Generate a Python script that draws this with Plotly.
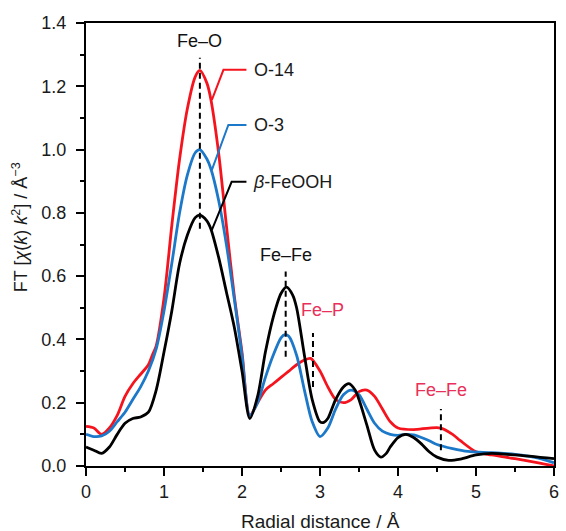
import plotly.graph_objects as go

# ---- data ----
x_o14 = [0, 0.1, 0.2, 0.3, 0.4, 0.5, 0.6, 0.7, 0.8, 0.85, 0.9, 1.0, 1.1, 1.2, 1.3, 1.4, 1.46, 1.55, 1.6, 1.7, 1.8, 1.9, 2.0, 2.1,
         2.2, 2.3, 2.4, 2.5, 2.6, 2.7, 2.8, 2.88, 3.0, 3.1, 3.2, 3.3, 3.4, 3.5, 3.6, 3.7, 3.8, 3.9, 4.0, 4.2, 4.4, 4.55,
         4.7, 4.8, 5.0, 5.2, 5.5, 5.8, 6.0]
y_o14 = [0.125, 0.12, 0.10, 0.12, 0.16, 0.22, 0.26, 0.29, 0.32, 0.35, 0.38, 0.53, 0.76, 0.97, 1.13, 1.23, 1.25, 1.21, 1.16, 0.99, 0.76, 0.54, 0.36, 0.16,
         0.20, 0.24, 0.26, 0.28, 0.30, 0.32, 0.335, 0.34, 0.30, 0.25, 0.21, 0.20, 0.21, 0.235, 0.24, 0.22, 0.18, 0.14, 0.12, 0.115, 0.12, 0.12,
         0.10, 0.08, 0.045, 0.035, 0.023, 0.01, 0.0]

x_o3 = [0, 0.1, 0.2, 0.3, 0.4, 0.5, 0.6, 0.7, 0.8, 0.9, 1.0, 1.1, 1.2, 1.3, 1.4, 1.46, 1.55, 1.6, 1.7, 1.8, 1.9, 2.0, 2.1,
        2.2, 2.3, 2.4, 2.5, 2.55, 2.6, 2.7, 2.8, 2.9, 3.0, 3.1, 3.2, 3.3, 3.4, 3.5, 3.6, 3.7, 3.8, 3.9, 4.0, 4.1, 4.2,
        4.3, 4.4, 4.5, 4.7, 4.9, 5.2, 5.5, 5.8, 6.0]
y_o3 = [0.10, 0.093, 0.095, 0.11, 0.14, 0.17, 0.21, 0.25, 0.30, 0.37, 0.49, 0.64, 0.80, 0.92, 0.99, 1.0, 0.97, 0.94, 0.84, 0.70, 0.53, 0.35, 0.16,
        0.20, 0.28, 0.35, 0.405, 0.415, 0.41, 0.35, 0.24, 0.14, 0.093, 0.12, 0.18, 0.225, 0.24, 0.225, 0.18, 0.135, 0.11, 0.10, 0.097, 0.10, 0.098,
        0.09, 0.08, 0.068, 0.055, 0.046, 0.042, 0.037, 0.025, 0.01]

x_feooh = [0, 0.1, 0.2, 0.3, 0.4, 0.5, 0.6, 0.7, 0.8, 0.9, 1.0, 1.1, 1.2, 1.3, 1.4, 1.46, 1.55, 1.6, 1.7, 1.8, 1.9, 2.0, 2.1,
           2.2, 2.3, 2.4, 2.5, 2.57, 2.65, 2.7, 2.8, 2.9, 3.0, 3.05, 3.1, 3.2, 3.3, 3.37, 3.45, 3.5, 3.6, 3.7, 3.78, 3.85,
           3.9, 4.0, 4.1, 4.2, 4.3, 4.4, 4.5, 4.65, 4.8, 5.0, 5.2, 5.5, 6.0]
y_feooh = [0.06, 0.05, 0.04, 0.06, 0.10, 0.135, 0.15, 0.155, 0.17, 0.24, 0.36, 0.49, 0.64, 0.73, 0.785, 0.793, 0.775, 0.75, 0.66, 0.55, 0.44, 0.30, 0.15,
           0.22, 0.36, 0.47, 0.545, 0.565, 0.54, 0.50, 0.35, 0.21, 0.14, 0.138, 0.15, 0.21, 0.25, 0.26, 0.24, 0.21, 0.13, 0.05, 0.028, 0.04,
           0.06, 0.09, 0.10, 0.09, 0.07, 0.045, 0.028, 0.018, 0.022, 0.035, 0.04, 0.035, 0.023]

series_names = ["O-14", "O-3", "<i>β</i>-FeOOH"]
series_colors = ["#f5141e", "#1c78c8", "#000000"]

# peak markers: label, x, label position, dash top/bottom, colour
peak_labels = ["Fe–O", "Fe–Fe", "Fe–P", "Fe–Fe"]
peak_x = [1.46, 2.56, 2.91, 4.55]
peak_label_x = [1.455, 2.57, 3.03, 4.55]
peak_label_y = [1.342, 0.667, 0.493, 0.24]
peak_dash_top = [1.29, 0.615, 0.42, 0.18]
peak_dash_bottom = [0.75, 0.345, 0.25, 0.05]
peak_colors = ["#111111", "#111111", "#e8305a", "#e8305a"]

# legend leader lines (start on curve, elbow, end) and label anchor
leader_x = [[1.614, 1.762, 2.057], [1.614, 1.825, 2.057], [1.614, 1.867, 2.057]]
leader_y = [[1.157, 1.252, 1.252], [0.936, 1.078, 1.078], [0.746, 0.898, 0.898]]
label_x = [2.13, 2.13, 2.11]

FONT = "Liberation Sans, Arial, sans-serif"
TXT = "#1a1a1a"

fig = go.Figure()
for xs, ys, name, col in [(x_o14, y_o14, series_names[0], series_colors[0]),
                          (x_o3, y_o3, series_names[1], series_colors[1]),
                          (x_feooh, y_feooh, series_names[2], series_colors[2])]:
    fig.add_trace(go.Scatter(x=xs, y=ys, mode="lines", name=name,
                             line=dict(color=col, width=2.8, shape="spline", smoothing=0.8),
                             showlegend=False))

# leader lines
for lx, ly, col, name, tx in zip(leader_x, leader_y, series_colors, series_names, label_x):
    fig.add_trace(go.Scatter(x=lx, y=ly, mode="lines", line=dict(color=col, width=2),
                             showlegend=False, hoverinfo="skip"))
    fig.add_annotation(x=tx, y=ly[-1], text=name, showarrow=False, xanchor="left", yanchor="middle",
                       font=dict(family=FONT, size=18, color=TXT))

# peak dashed markers and labels
for lab, px, lx, ly, yt, yb, col in zip(peak_labels, peak_x, peak_label_x, peak_label_y,
                                         peak_dash_top, peak_dash_bottom, peak_colors):
    fig.add_shape(type="line", x0=px, x1=px, y0=yb, y1=yt, xref="x", yref="y",
                  line=dict(color="#000000", width=2, dash="6px,4px"))
    fig.add_annotation(x=lx, y=ly, text=lab, showarrow=False, xanchor="center", yanchor="middle",
                       font=dict(family=FONT, size=18, color=col))

# axis titles as annotations
fig.add_annotation(xref="paper", yref="paper", x=-0.14, y=0.54,
                   text="FT [<i>χ</i>(<i>k</i>) <i>k</i><sup>2</sup>] / Å<sup>−3</sup>",
                   textangle=-90, showarrow=False, xanchor="center", yanchor="middle",
                   font=dict(family=FONT, size=18, color=TXT))
fig.add_annotation(xref="paper", yref="paper", x=0.5, y=-0.126,
                   text="Radial distance / Å", showarrow=False, xanchor="center", yanchor="middle",
                   font=dict(family=FONT, size=19, color=TXT))

axis_common = dict(showline=True, linecolor="#000000", linewidth=2, mirror=True,
                   ticks="outside", ticklen=8, tickwidth=2, tickcolor="#000000",
                   showgrid=False, zeroline=False, ticklabeloverflow="allow",
                   tickfont=dict(family=FONT, size=18, color=TXT))

fig.update_xaxes(range=[0, 6], dtick=1, tick0=0,
                 minor=dict(ticks="outside", dtick=0.5, ticklen=4, tickwidth=2, tickcolor="#000000"),
                 ticklabelstandoff=0,
                 **axis_common)
fig.update_yaxes(range=[0, 1.4], dtick=0.2, tick0=0, tickformat=".1f",
                 minor=dict(ticks="outside", dtick=0.1, ticklen=4, tickwidth=2, tickcolor="#000000"),
                 ticklabelstandoff=6,
                 **axis_common)

fig.update_layout(width=566, height=531,
                  margin=dict(l=86, r=7, t=23, b=65),
                  paper_bgcolor="white", plot_bgcolor="white",
                  font=dict(family=FONT))

fig.write_html("out.html", config={"displayModeBar": False},
               post_script="document.body.style.margin='0';")
